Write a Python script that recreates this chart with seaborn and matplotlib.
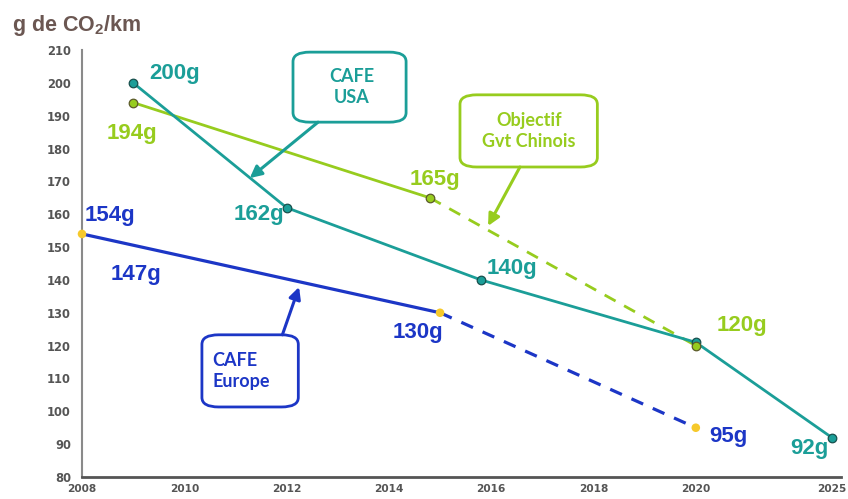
import numpy as np
import pandas as pd
import matplotlib
matplotlib.use("Agg")
import matplotlib.pyplot as plt
from matplotlib.patches import FancyBboxPatch
import seaborn as sns

# ---- data -------------------------------------------------------------
usa_years = [2009, 2012, 2015.8, 2020, 2025]
usa_vals = [200, 162, 140, 121, 92]
usa_labels = [(0, "200g"), (1, "162g"), (2, "140g"), (4, "92g")]

china_years = [2009, 2014.8]
china_vals = [194, 165]
china_target_years = [2014.8, 2020]
china_target_vals = [165, 120]

eu_years = [2008, 2015]
eu_vals = [154, 130]
eu_target_years = [2015, 2020]
eu_target_vals = [130, 95]
eu_mid_label = (2009.05, 141.5, "147g")

tick_years = [2008, 2010, 2012, 2014, 2016, 2018, 2020, 2025]
y_ticks = list(range(80, 211, 10))

# ---- styling ----------------------------------------------------------
TEAL = "#1b9e98"
TEAL_EDGE = "#17504d"
GREEN = "#97cc1e"
GREEN_EDGE = "#5b5a2a"
BLUE = "#1c36c6"
YELLOW = "#f6c92b"
GREY = "#555555"
TITLE = "#6b5752"

sns.set_style("white")
plt.rcParams["font.family"] = ["Liberation Sans", "DejaVu Sans"]
plt.rcParams["mathtext.fontset"] = "custom"
plt.rcParams["mathtext.rm"] = "Liberation Sans:bold"
plt.rcParams["mathtext.bf"] = "Liberation Sans:bold"

# x axis: 2-year steps up to 2020, then one compressed step to 2025
tick_pos = [0, 1, 2, 3, 4, 5, 6, 7.33]


def xpos(years):
    return np.interp(np.asarray(years, dtype=float), tick_years, tick_pos)


fig = plt.figure(figsize=(8.48, 4.99), dpi=100)
W, H = 848, 499
ax = fig.add_axes([82 / W, 22 / H, 759 / W, 427 / H])

usa = pd.DataFrame({"x": xpos(usa_years), "v": usa_vals})
china = pd.DataFrame({"x": xpos(china_years), "v": china_vals})
china_t = pd.DataFrame({"x": xpos(china_target_years), "v": china_target_vals})
eu = pd.DataFrame({"x": xpos(eu_years), "v": eu_vals})
eu_t = pd.DataFrame({"x": xpos(eu_target_years), "v": eu_target_vals})

# lines
sns.lineplot(data=china, x="x", y="v", color=GREEN, linewidth=2.0, ax=ax, zorder=2)
sns.lineplot(data=china_t, x="x", y="v", color=GREEN, linewidth=2.0, ax=ax,
             zorder=2, dashes=False, linestyle=(0, (4.5, 3.5)))
sns.lineplot(data=eu, x="x", y="v", color=BLUE, linewidth=2.3, ax=ax, zorder=2)
sns.lineplot(data=eu_t, x="x", y="v", color=BLUE, linewidth=2.3, ax=ax,
             zorder=2, dashes=False, linestyle=(0, (4, 3.3)))
sns.lineplot(data=usa, x="x", y="v", color=TEAL, linewidth=2.0, ax=ax, zorder=3)

# markers
ax.scatter(usa["x"], usa["v"], s=38, color=TEAL, edgecolor=TEAL_EDGE,
           linewidth=0.9, zorder=4)
china_pts = pd.concat([china, china_t]).drop_duplicates()
ax.scatter(china_pts["x"], china_pts["v"], s=38, color=GREEN,
           edgecolor=GREEN_EDGE, linewidth=0.9, zorder=5)
eu_pts = pd.concat([eu, eu_t]).drop_duplicates()
ax.scatter(eu_pts["x"], eu_pts["v"], s=38, color=YELLOW, edgecolor="none",
           zorder=5, clip_on=False)

# value labels
LBL = 16
lab_kw = dict(textcoords="offset pixels", ha="center", va="center",
              fontsize=LBL, fontweight="bold", annotation_clip=False)
usa_off = {0: (41, 9), 1: (-28, -7), 2: (31, 11), 4: (-22, -11)}
for i, txt in usa_labels:
    ax.annotate(txt, (usa["x"][i], usa["v"][i]), xytext=usa_off[i],
                color=TEAL, **lab_kw)
ax.annotate(f"{china_vals[0]}g", (xpos(china_years[0]), china_vals[0]),
            xytext=(-1, -31), color=GREEN, **lab_kw)
ax.annotate(f"{china_vals[1]}g", (xpos(china_years[1]), china_vals[1]),
            xytext=(5, 18), color=GREEN, **lab_kw)
ax.annotate(f"{china_target_vals[1]}g",
            (xpos(china_target_years[1]), china_target_vals[1]),
            xytext=(46, 20), color=GREEN, **lab_kw)
ax.annotate(f"{eu_vals[0]}g", (xpos(eu_years[0]), eu_vals[0]),
            xytext=(28, 18), color=BLUE, **lab_kw)
ax.annotate(f"{eu_vals[1]}g", (xpos(eu_years[1]), eu_vals[1]),
            xytext=(-22, -20), color=BLUE, **lab_kw)
ax.annotate(f"{eu_target_vals[1]}g", (xpos(eu_target_years[1]), eu_target_vals[1]),
            xytext=(33, -9), color=BLUE, **lab_kw)
ax.text(xpos(eu_mid_label[0]), eu_mid_label[1], eu_mid_label[2], color=BLUE,
        ha="center", va="center", fontsize=LBL, fontweight="bold")


# callout boxes (axes-fraction coordinates)
def callout(x0, y0, x1, y1, text, color, tx, ty, ha, arrow_from, arrow_to):
    box = FancyBboxPatch((x0, y0), x1 - x0, y1 - y0,
                         boxstyle="round,pad=0,rounding_size=0.022",
                         transform=ax.transAxes, facecolor="white",
                         edgecolor=color, linewidth=2.0, zorder=6,
                         clip_on=False, mutation_aspect=427 / 759 * 1.8)
    ax.add_patch(box)
    ax.text(tx, ty, text, transform=ax.transAxes, ha=ha, va="center",
            color=color, fontsize=13, fontweight="bold", family=["Lato", "DejaVu Sans"],
            linespacing=1.25, zorder=7)
    ax.annotate("", xy=arrow_to, xytext=arrow_from, xycoords="axes fraction",
                textcoords="axes fraction", annotation_clip=False,
                arrowprops=dict(arrowstyle="-|>,head_length=0.7,head_width=0.35",
                                color=color, lw=2.2, shrinkA=0, shrinkB=0),
                zorder=6)


callout(0.278, 0.831, 0.427, 0.995, "CAFE\nUSA", TEAL, 0.355, 0.913, "center",
        (0.311, 0.831), (0.221, 0.700))
callout(0.498, 0.726, 0.679, 0.895, "Objectif\nGvt Chinois", GREEN, 0.589, 0.810,
        "center", (0.577, 0.726), (0.535, 0.588))
callout(0.158, 0.164, 0.285, 0.333, "CAFE\nEurope", BLUE, 0.172, 0.248, "left",
        (0.264, 0.333), (0.286, 0.445))

# axes
ax.set_xlim(0, 759 / 102.3)
ax.set_ylim(80, 210)
ax.set_xticks(tick_pos)
ax.set_xticklabels([str(y) for y in tick_years])
ax.set_yticks(y_ticks)
ax.set_yticklabels([str(v) for v in y_ticks])
ax.set_xlabel("")
ax.set_ylabel("")
for lab in ax.get_yticklabels():
    lab.set_fontfamily(["DejaVu Sans"])
    lab.set_fontweight("bold")
    lab.set_fontsize(8.3)
    lab.set_color(GREY)
for lab in ax.get_xticklabels():
    lab.set_fontfamily(["DejaVu Sans"])
    lab.set_fontweight("bold")
    lab.set_fontsize(7.6)
    lab.set_color(GREY)
ax.tick_params(axis="y", direction="out", length=4, width=1.2, color="#8a8a8a", pad=4)
ax.tick_params(axis="x", direction="out", length=3, width=1.0, color="#8a8a8a", pad=2)
sns.despine(ax=ax, top=True, right=True)
ax.spines["left"].set_color("#8a8a8a")
ax.spines["left"].set_linewidth(1.5)
ax.spines["bottom"].set_color("#555555")
ax.spines["bottom"].set_linewidth(2.0)

fig.text(12 / W, 1 - 25 / H, r"g de CO$_{2}$/km", ha="left", va="center",
         fontsize=15.5, fontweight="bold", color=TITLE)

fig.savefig("out.png", dpi=100, facecolor="white")
